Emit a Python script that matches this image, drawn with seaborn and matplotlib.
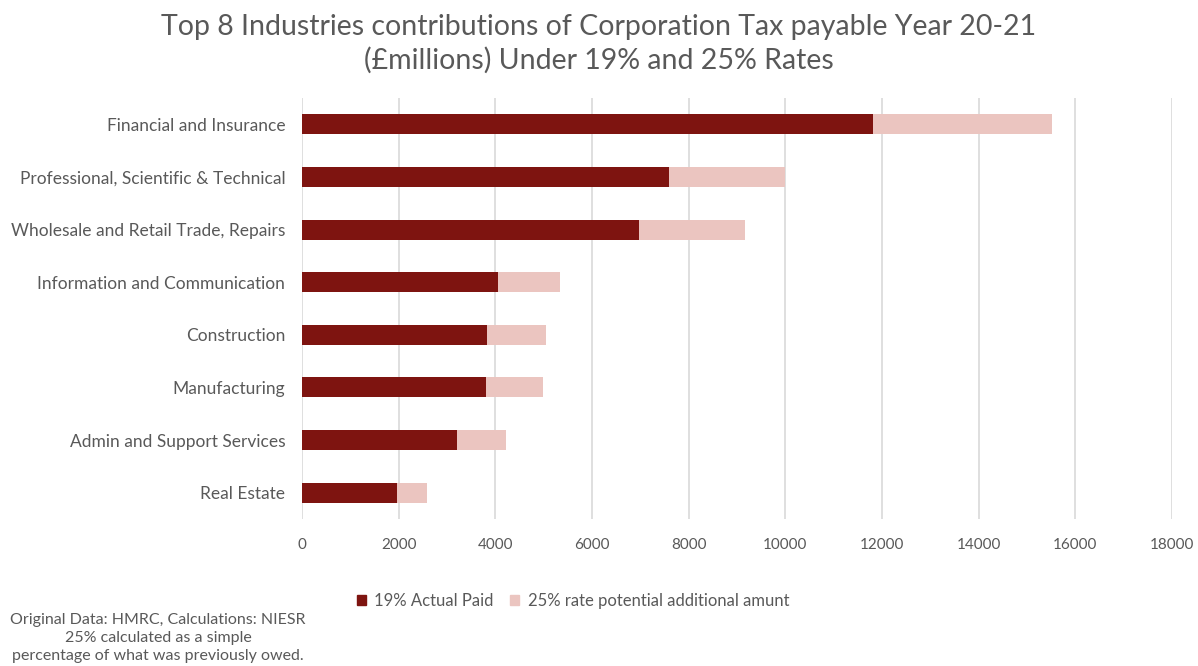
import matplotlib
matplotlib.use("Agg")
import matplotlib.pyplot as plt
import seaborn as sns
import pandas as pd
from matplotlib.patches import Patch

industries = ["Financial and Insurance", "Professional, Scientific & Technical",
              "Wholesale and Retail Trade, Repairs", "Information and Communication",
              "Construction", "Manufacturing", "Admin and Support Services", "Real Estate"]
paid_19 = [11810, 7590, 6970, 4050, 3830, 3800, 3200, 1970]
additional_25 = [3700, 2400, 2190, 1290, 1220, 1190, 1020, 620]
xticks = [0, 2000, 4000, 6000, 8000, 10000, 12000, 14000, 16000, 18000]

df = pd.DataFrame({"industry": industries, "paid": paid_19, "add": additional_25})
df["total"] = df["paid"] + df["add"]

sns.set_theme(style="white")
plt.rcParams["font.family"] = ["Lato", "DejaVu Sans"]
grey = "#595959"
dark = "#7E1410"
light = "#EBC5C0"

fig = plt.figure(figsize=(11.98, 6.66), dpi=100)
ax = fig.add_axes([302/1198, 1-519/666, 870/1198, 421/666])

sns.barplot(data=df, x="total", y="industry", color=light, width=0.38,
            ax=ax, orient="h", saturation=1, linewidth=0, label="_t")
sns.barplot(data=df, x="paid", y="industry", color=dark, width=0.38,
            ax=ax, orient="h", saturation=1, linewidth=0, label="_p")

ax.set_xlim(0, 18000)
ax.set_ylim(7.5, -0.5)
ax.set_xticks(xticks)
ax.set_xticklabels([str(v) for v in xticks])
ax.xaxis.grid(True, color="#D9D9D9", linewidth=1.2)
ax.set_axisbelow(True)
for s in ax.spines.values():
    s.set_visible(False)
ax.tick_params(axis="both", length=0, colors=grey)
ax.tick_params(axis="y", labelsize=12.5, pad=12)
ax.tick_params(axis="x", labelsize=11, pad=14)
ax.set_xlabel("")
ax.set_ylabel("")

fig.text(0.5, 1-27/666, "Top 8 Industries contributions of Corporation Tax payable Year 20-21",
         ha="center", va="center", fontsize=20.5, color=grey)
fig.text(0.5, 1-60/666, "(£millions) Under 19% and 25% Rates",
         ha="center", va="center", fontsize=20.5, color=grey)

handles = [Patch(color=dark, label="19% Actual Paid"),
           Patch(color=light, label="25% rate potential additional amunt")]
leg = fig.legend(handles=handles, loc="center", bbox_to_anchor=(573/1198, 1-601/666),
                 ncol=2, frameon=False, fontsize=12, handlelength=0.55, handleheight=0.55,
                 handletextpad=0.5, columnspacing=1.0)
for t in leg.get_texts():
    t.set_color(grey)

fig.text(158/1198, 1-638/666,
         "Original Data: HMRC, Calculations: NIESR\n25% calculated as a simple\npercentage of what was previously owed.",
         ha="center", va="center", fontsize=11.5, color=grey, linespacing=1.38)

fig.savefig("out.png", dpi=100)
